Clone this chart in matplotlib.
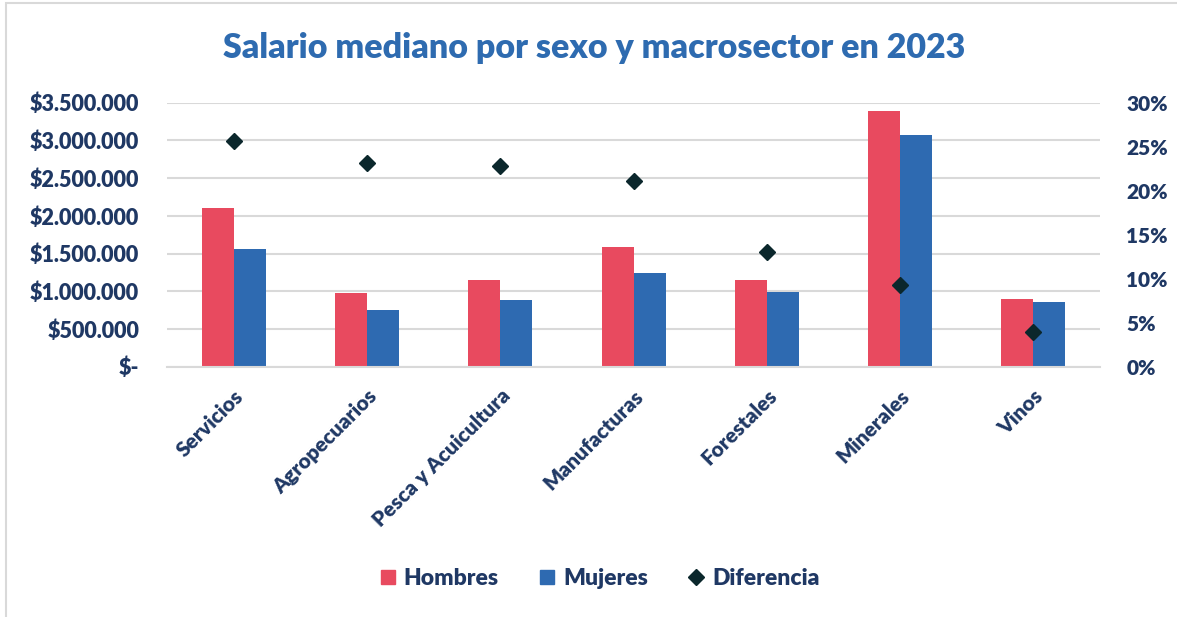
import numpy as np
import matplotlib
matplotlib.use('Agg')
from matplotlib import pyplot as plt
from matplotlib.patches import Rectangle
from matplotlib.lines import Line2D
from matplotlib.ticker import FuncFormatter

categories = ['Servicios', 'Agropecuarios', 'Pesca y Acuicultura', 'Manufacturas',
              'Forestales', 'Minerales', 'Vinos']
hombres = [2104000, 977000, 1145000, 1587000, 1145000, 3386000, 893000]
mujeres = [1560000, 748000, 884000, 1246000, 994000, 3072000, 854000]
diferencia = [25.7, 23.1, 22.8, 21.1, 13.0, 9.3, 3.9]

left_ticks = [0, 500000, 1000000, 1500000, 2000000, 2500000, 3000000, 3500000]
right_ticks = [0, 5, 10, 15, 20, 25, 30]

c_h = '#E84A5F'
c_m = '#2E6AB1'
c_d = '#0B272C'
c_txt = '#1F3864'
c_title = '#2E6BB0'
c_grid = '#D9D9D9'

plt.rcParams['font.family'] = ['Lato', 'DejaVu Sans']
plt.rcParams['font.weight'] = 'heavy'


def money(v, pos):
    if v == 0:
        return '$-'
    return '$' + f'{int(v):,}'.replace(',', '.')


def main():
    fig = plt.figure(figsize=(11.77, 6.17), dpi=100)
    fig.patches.append(Rectangle((6 / 1177, -0.1), 1.2, 1.1 - 3 / 617,
                                 transform=fig.transFigure, fill=False,
                                 edgecolor='#D9D9D9', linewidth=1.5))

    ax = fig.add_axes([0.1419, 0.4057, 0.7927, 0.4279])
    x = np.arange(len(categories))
    w = 0.24
    ax.bar(x - w / 2, hombres, w, color=c_h, label='Hombres', zorder=2)
    ax.bar(x + w / 2, mujeres, w, color=c_m, label='Mujeres', zorder=2)
    ax.set_ylim(0, 3500000)
    ax.set_xlim(-0.5, len(categories) - 0.5)
    ax.set_yticks(left_ticks)
    ax.yaxis.set_major_formatter(FuncFormatter(money))
    ax.grid(axis='y', color=c_grid, linewidth=1.5, zorder=0)
    ax.set_axisbelow(True)
    for s in ['top', 'right', 'left']:
        ax.spines[s].set_visible(False)
    ax.spines['bottom'].set_color(c_grid)
    ax.spines['bottom'].set_linewidth(1.5)
    ax.set_xticks(x)
    ax.set_xticklabels(categories, rotation=45, ha='right', rotation_mode='anchor')
    ax.tick_params(axis='both', length=0, labelcolor=c_txt)
    ax.tick_params(axis='y', pad=20, labelsize=15.5)
    ax.tick_params(axis='x', pad=14, labelsize=15)

    ax2 = ax.twinx()
    ax2.plot(x, diferencia, linestyle='none', marker='D', markersize=8.5,
             color=c_d, zorder=3)
    ax2.set_ylim(0, 30)
    ax2.set_yticks(right_ticks)
    ax2.set_yticklabels([f'{t}%' for t in right_ticks])
    ax2.tick_params(axis='y', length=0, labelsize=15, labelcolor=c_txt, pad=19)
    for s in ax2.spines.values():
        s.set_visible(False)

    fig.text(0.505, 0.922, 'Salario mediano por sexo y macrosector en 2023',
             ha='center', va='center', fontsize=24.5, color=c_title, fontweight='heavy')

    handles = [
        Line2D([], [], linestyle='none', marker='s', markersize=10.5, color=c_h),
        Line2D([], [], linestyle='none', marker='s', markersize=10.5, color=c_m),
        Line2D([], [], linestyle='none', marker='D', markersize=8.5, color=c_d),
    ]
    leg = fig.legend(handles, ['Hombres', 'Mujeres', 'Diferencia'], loc='center',
                     bbox_to_anchor=(0.508, 0.062), ncol=3, frameon=False,
                     fontsize=16.5, handletextpad=0.2, columnspacing=1.6,
                     handlelength=1.0)
    for t in leg.get_texts():
        t.set_color(c_txt)

    fig.savefig('out.png', dpi=100)


if __name__ == '__main__':
    main()
